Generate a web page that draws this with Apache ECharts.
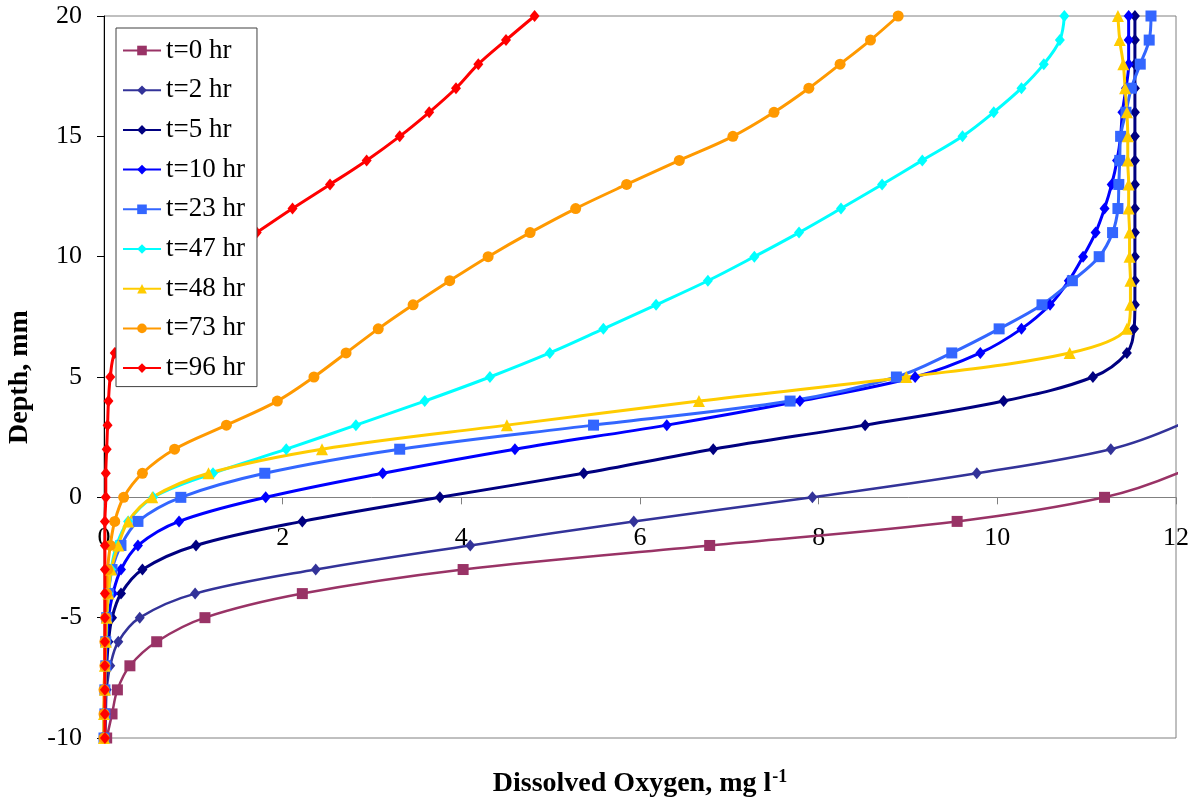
<!DOCTYPE html>
<html>
<head>
<meta charset="utf-8">
<title>Dissolved oxygen depth profiles</title>
<script src="https://cdn.jsdelivr.net/npm/echarts@6/dist/echarts.min.js"></script>
<style>
  html, body { margin: 0; padding: 0; background: #fff; }
  #chart { width: 1196px; height: 803px; }
</style>
</head>
<body>
<div id="chart"></div>
<script>
// Depth below / above the interface, mm (one reading per millimetre)
const depths = [-10, -9, -8, -7, -6, -5, -4, -3, -2, -1, 0, 1, 2, 3, 4, 5, 6, 7, 8, 9, 10,
                11, 12, 13, 14, 15, 16, 17, 18, 19, 20];

// Dissolved oxygen (mg/l) at each depth, starting from -10 mm
const do_t0  = [0.03, 0.09, 0.15, 0.29, 0.59, 1.13, 2.22, 4.02, 6.78, 9.55, 11.20, 12.02, 12.50];
const do_t2  = [0.01, 0.02, 0.03, 0.07, 0.16, 0.40, 1.02, 2.37, 4.10, 5.93, 7.93, 9.77, 11.27, 12.03, 12.50];
const do_t5  = [0.01, 0.01, 0.02, 0.03, 0.05, 0.09, 0.19, 0.43, 1.03, 2.22, 3.76, 5.37, 6.82, 8.52, 10.07,
                11.07, 11.45, 11.53, 11.54, 11.54, 11.54, 11.54, 11.54, 11.54, 11.54, 11.54, 11.54, 11.54,
                11.54, 11.54, 11.54];
const do_t10 = [0.00, 0.01, 0.01, 0.02, 0.03, 0.05, 0.10, 0.19, 0.38, 0.84, 1.81, 3.12, 4.60, 6.30, 7.79,
                9.08, 9.81, 10.27, 10.59, 10.80, 10.96, 11.10, 11.20, 11.28, 11.34, 11.38, 11.40, 11.44,
                11.47, 11.47, 11.47];
const do_t23 = [0.00, 0.01, 0.01, 0.02, 0.02, 0.03, 0.05, 0.09, 0.19, 0.38, 0.86, 1.80, 3.31, 5.48, 7.68,
                8.87, 9.49, 10.02, 10.50, 10.84, 11.14, 11.29, 11.35, 11.36, 11.37, 11.38, 11.44, 11.50,
                11.60, 11.70, 11.72];
const do_t47 = [0.00, 0.00, 0.01, 0.01, 0.02, 0.03, 0.05, 0.08, 0.14, 0.27, 0.55, 1.22, 2.04, 2.82, 3.59,
                4.32, 4.99, 5.59, 6.18, 6.76, 7.28, 7.78, 8.25, 8.71, 9.16, 9.61, 9.96, 10.27, 10.52,
                10.70, 10.75];
const do_t48 = [0.00, 0.00, 0.01, 0.01, 0.02, 0.03, 0.05, 0.08, 0.16, 0.27, 0.54, 1.17, 2.44, 4.51, 6.66,
                8.98, 10.81, 11.45, 11.49, 11.49, 11.48, 11.48, 11.47, 11.47, 11.46, 11.46, 11.45, 11.43,
                11.41, 11.37, 11.35];
const do_t73 = [0.00, 0.00, 0.00, 0.01, 0.01, 0.02, 0.03, 0.04, 0.07, 0.12, 0.22, 0.43, 0.79, 1.37, 1.94,
                2.35, 2.71, 3.07, 3.46, 3.87, 4.30, 4.77, 5.28, 5.85, 6.44, 7.04, 7.50, 7.89, 8.24,
                8.58, 8.89];
const do_t96 = [0.01, 0.01, 0.01, 0.01, 0.01, 0.01, 0.01, 0.01, 0.01, 0.01, 0.02, 0.02, 0.03, 0.04, 0.05,
                0.07, 0.12, 0.30, 0.60, 0.95, 1.32, 1.71, 2.11, 2.53, 2.94, 3.31, 3.64, 3.94, 4.19,
                4.50, 4.82];

const seriesNames = ['t=0 hr', 't=2 hr', 't=5 hr', 't=10 hr', 't=23 hr', 't=47 hr', 't=48 hr', 't=73 hr', 't=96 hr'];
const seriesValues = [do_t0, do_t2, do_t5, do_t10, do_t23, do_t47, do_t48, do_t73, do_t96];

// Appearance of each profile
const styles = [
  { color: '#993366', symbol: 'rect',     size: 11,       width: 2.5 },
  { color: '#333399', symbol: 'diamond',  size: [10, 12], width: 2.5 },
  { color: '#000080', symbol: 'diamond',  size: [10, 12], width: 3 },
  { color: '#0000FF', symbol: 'diamond',  size: [10, 12], width: 3 },
  { color: '#3366FF', symbol: 'rect',     size: 11,       width: 3 },
  { color: '#00FFFF', symbol: 'diamond',  size: [10, 12], width: 3 },
  { color: '#FFCC00', symbol: 'triangle', size: 12,       width: 3 },
  { color: '#FF9900', symbol: 'circle',   size: 11,       width: 3 },
  { color: '#FF0000', symbol: 'diamond',  size: [10, 12], width: 3 }
];

const FONT = '"Liberation Serif", "Times New Roman", serif';

// Plot box in pixels; the horizontal axis is drawn across the 0 mm level
const GRID = { left: 104, right: 20, top: 16, bottom: 65 };
const Y_MIN = -10, Y_MAX = 20;
const plotHeight = 803 - GRID.top - GRID.bottom;
const zeroOffset = -plotHeight * (0 - Y_MIN) / (Y_MAX - Y_MIN);

const series = seriesNames.map((name, k) => ({
  name,
  type: 'line',
  smooth: 0.35,
  clip: true,
  symbol: styles[k].symbol,
  symbolSize: styles[k].size,
  showAllSymbol: true,
  lineStyle: { color: styles[k].color, width: styles[k].width },
  itemStyle: { color: styles[k].color },
  emphasis: { disabled: true },
  data: seriesValues[k].map((v, i) => [v, depths[i]])
}));

const chart = echarts.init(document.getElementById('chart'), null, { renderer: 'canvas' });
chart.setOption({
  animation: false,
  backgroundColor: '#ffffff',
  grid: {
    left: GRID.left, right: GRID.right, top: GRID.top, bottom: GRID.bottom,
    containLabel: false,
    outerBoundsMode: 'none',
    show: true, borderColor: '#808080', borderWidth: 1
  },
  legend: {
    orient: 'vertical',
    left: 116, top: 28,
    backgroundColor: '#ffffff',
    borderColor: '#404040', borderWidth: 1,
    padding: [9, 12, 5, 6],
    itemGap: 12.7,
    itemWidth: 38, itemHeight: 12,
    textStyle: { fontFamily: FONT, fontSize: 27, color: '#000', lineHeight: 26 },
    data: seriesNames,
    z: 10
  },
  xAxis: {
    type: 'value',
    position: 'bottom',
    offset: zeroOffset,
    min: 0, max: 12, interval: 2,
    name: 'Dissolved Oxygen, mg l{sup|-1}',
    nameLocation: 'middle',
    nameGap: 271,
    nameMoveOverlap: false,
    nameTextStyle: {
      fontFamily: FONT, fontWeight: 'bold', fontSize: 28, color: '#000',
      rich: { sup: { fontFamily: FONT, fontWeight: 'bold', fontSize: 18, color: '#000', verticalAlign: 'top', padding: [0, 0, 12, 1] } }
    },
    axisLine: { onZero: false, lineStyle: { color: '#808080', width: 1 } },
    axisTick: { show: true, inside: false, length: 7, lineStyle: { color: '#808080' } },
    axisLabel: { fontFamily: FONT, fontSize: 26, color: '#000', margin: 28 },
    splitLine: { show: false }
  },
  yAxis: {
    type: 'value',
    min: Y_MIN, max: Y_MAX, interval: 5,
    name: 'Depth, mm',
    nameLocation: 'middle',
    nameGap: 70,
    nameTextStyle: { fontFamily: FONT, fontWeight: 'bold', fontSize: 28, color: '#000' },
    axisLine: { show: true, onZero: false, lineStyle: { color: '#000', width: 1 } },
    axisTick: { show: true, inside: false, length: 7, lineStyle: { color: '#000' } },
    axisLabel: { fontFamily: FONT, fontSize: 26, color: '#000', margin: 22 },
    splitLine: { show: false }
  },
  series
});
</script>
</body>
</html>
